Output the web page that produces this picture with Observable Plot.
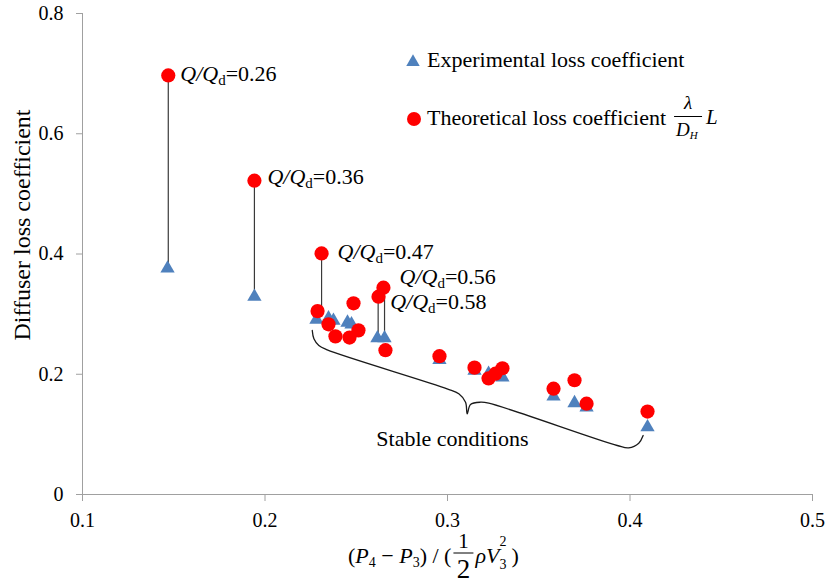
<!DOCTYPE html>
<html><head><meta charset="utf-8">
<script src="https://cdn.jsdelivr.net/npm/d3@7"></script>
<script src="https://cdn.jsdelivr.net/npm/@observablehq/plot@0.6"></script>
<style>
body{margin:0;background:#fff;}
svg text{font-family:"Liberation Serif","Times New Roman","DejaVu Serif",serif !important;}
</style>
</head><body><div id="chart"></div>
<script>
// ---- data ----
const expX = [0.1466, 0.1942, 0.2282, 0.2348, 0.2375, 0.2452, 0.2474, 0.2616, 0.2655, 0.2956, 0.3148, 0.3225, 0.3301, 0.3581, 0.3696, 0.3762, 0.4096];
const expY = [0.376, 0.329, 0.291, 0.293, 0.289, 0.286, 0.283, 0.260, 0.260, 0.224, 0.206, 0.201, 0.195, 0.163, 0.152, 0.145, 0.112];
const theoX = [0.1470, 0.1942, 0.2310, 0.2649, 0.2622, 0.2288, 0.2485, 0.2348, 0.2386, 0.2463, 0.2512, 0.2660, 0.2956, 0.3148, 0.3225, 0.3263, 0.3301, 0.3581, 0.3696, 0.3762, 0.4096];
const theoY = [0.697, 0.522, 0.401, 0.344, 0.329, 0.305, 0.318, 0.283, 0.263, 0.261, 0.273, 0.240, 0.230, 0.211, 0.193, 0.201, 0.210, 0.176, 0.190, 0.151, 0.138];
const flowRatios = ["0.26", "0.36", "0.47", "0.56", "0.58"];
const dropX = [0.1470, 0.1942, 0.2310, 0.2655, 0.2620];
const dropLow = [0.376, 0.329, 0.300, 0.260, 0.260];
const dropHigh = [0.697, 0.522, 0.401, 0.344, 0.329];
const braceX = [0.2259, 0.2268, 0.2295, 0.2341, 0.2998, 0.3062, 0.3099, 0.3108, 0.3126, 0.3181, 0.3226, 0.3930, 0.3993, 0.4048, 0.4072];
const braceY = [0.2728, 0.2589, 0.2478, 0.2406, 0.1758, 0.1675, 0.1535, 0.1342, 0.1497, 0.1535, 0.1519, 0.0815, 0.0776, 0.0853, 0.0981];
const braceLabel = ["Stable conditions"];
const braceLabelX = [0.3027];
const braceLabelY = [0.093];
const xTicks = [0.1, 0.2, 0.3, 0.4, 0.5];
const yTicks = [0, 0.2, 0.4, 0.6, 0.8];
const yTitle = "Diffuser loss coefficient";
const legendExp = "Experimental loss coefficient";
const legendTheo = "Theoretical loss coefficient";

// label offsets (px) relative to each upper point
const labelOffsets = [[12, -1], [13, -3.5], [16, -1.5], [15, -10.5], [12, 5.5]];

const FONT = "'Liberation Serif', 'Times New Roman', 'DejaVu Serif', serif";
const BLUE = "#4F81BD", RED = "#FF0000", AXIS = "#a0a0a0";
const idx = n => d3.range(n);

const labelMarks = flowRatios.map((q, i) => Plot.text([i], {
  x: j => dropX[j], y: j => dropHigh[j], text: j => "Q/Qd=" + flowRatios[j],
  textAnchor: "start", lineAnchor: "middle", dx: labelOffsets[i][0], dy: labelOffsets[i][1],
  fontSize: 22, fill: "#000"
}));

const plot = Plot.plot({
  width: 827, height: 588,
  marginLeft: 82, marginRight: 15, marginTop: 13, marginBottom: 94,
  style: {fontFamily: FONT, fontSize: "20px", color: "#000", background: "#fff"},
  x: {domain: [0.1, 0.5]},
  y: {domain: [0, 0.8]},
  marks: [
    Plot.ruleX([0.1], {stroke: AXIS}),
    Plot.ruleY([0], {stroke: AXIS}),
    Plot.axisX({ticks: xTicks, tickFormat: d => d.toFixed(1), tickSize: 7, tickPadding: 11, stroke: AXIS, fill: "#000", label: null, fontSize: 20}),
    Plot.axisY({ticks: yTicks, tickFormat: d => d === 0 ? "0" : d.toFixed(1), tickSize: 6, tickPadding: 13, stroke: AXIS, fill: "#000", label: null, fontSize: 20}),
    Plot.ruleX(idx(dropX.length), {x: i => dropX[i], y1: i => dropLow[i], y2: i => dropHigh[i], stroke: "#3a3a3a", strokeWidth: 1.2}),
    Plot.line(idx(braceX.length), {x: i => braceX[i], y: i => braceY[i], curve: "catmull-rom", stroke: "#1a1a1a", strokeWidth: 1.3}),
    Plot.dot(idx(expX.length), {x: i => expX[i], y: i => expY[i], symbol: "triangle", r: 5.3, fill: BLUE}),
    Plot.dot(idx(theoX.length), {x: i => theoX[i], y: i => theoY[i], r: 7.1, fill: RED}),
    ...labelMarks,
    Plot.text(idx(braceLabel.length), {x: i => braceLabelX[i], y: i => braceLabelY[i], text: i => braceLabel[i], fontSize: 22, fill: "#000"})
  ]
});
document.getElementById("chart").appendChild(plot);

const svg = d3.select(plot);

// Q/Qd labels: italic Q/Q with upright subscript d
svg.selectAll("text").each(function() {
  const m = /^Q\/Qd=(.*)$/.exec(this.textContent);
  if (!m) return;
  const t = d3.select(this);
  t.text(null);
  t.append("tspan").attr("font-style", "italic").text("Q/Q");
  t.append("tspan").attr("font-size", 15).attr("dy", 4).text("d");
  t.append("tspan").attr("dy", -4).text("=" + m[1]);
});

const g = svg.append("g").attr("fill", "#000").attr("text-anchor", "start");
function txt(x, y, s, o = {}) {
  const t = g.append("text").attr("x", x).attr("y", y).attr("font-size", o.size || 22)
    .attr("text-anchor", o.anchor || "start").text(s);
  if (o.italic) t.attr("font-style", "italic");
  return t;
}
const W = t => t.node().getComputedTextLength();

// y axis title
g.append("text").attr("transform", "translate(30,225) rotate(-90)").attr("text-anchor", "middle")
  .attr("font-size", 24).text(yTitle);

// legend
g.append("path").attr("d", d3.symbol(d3.symbolTriangle, Math.PI * 5 * 5)()).attr("transform", "translate(413,62)").attr("fill", BLUE);
txt(427, 67, legendExp, {size: 22});
g.append("circle").attr("cx", 414).attr("cy", 119).attr("r", 7).attr("fill", RED);
const tTheo = txt(427, 125, legendTheo, {size: 22});
let fx = 427 + W(tTheo) + 8;
txt(fx + 14, 109, "λ", {size: 19, italic: true, anchor: "middle"});
g.append("line").attr("x1", fx).attr("x2", fx + 28).attr("y1", 116.5).attr("y2", 116.5).attr("stroke", "#000").attr("stroke-width", 1);
const tD = txt(fx + 2, 136, "D", {size: 19, italic: true});
txt(fx + 2 + W(tD), 139, "H", {size: 11, italic: true});
txt(fx + 32, 124, "L", {size: 21, italic: true});

// x axis title: (P4 − P3) / (1/2 ρ V3^2)
let cx = 348;
const base = 563;
function seq(s, o = {}) { const t = txt(cx, o.y || base, s, o); cx += W(t); return t; }
seq("(");
seq("P", {italic: true});
seq("4", {size: 14, y: base + 4});
seq(" − ");
seq("P", {italic: true});
seq("3", {size: 14, y: base + 4});
seq(") / (");
const fc = cx + 12;
txt(fc, 548, "1", {size: 21, anchor: "middle"});
g.append("line").attr("x1", fc - 10).attr("x2", fc + 10).attr("y1", 553).attr("y2", 553).attr("stroke", "#000").attr("stroke-width", 1);
txt(fc, 578, "2", {size: 27, anchor: "middle"});
cx = fc + 12;
seq("ρV", {italic: true});
txt(cx, 546, "2", {size: 14});
const t3 = txt(cx, 569, "3", {size: 14});
cx += W(t3) + 5;
seq(")");
</script>
</body></html>
